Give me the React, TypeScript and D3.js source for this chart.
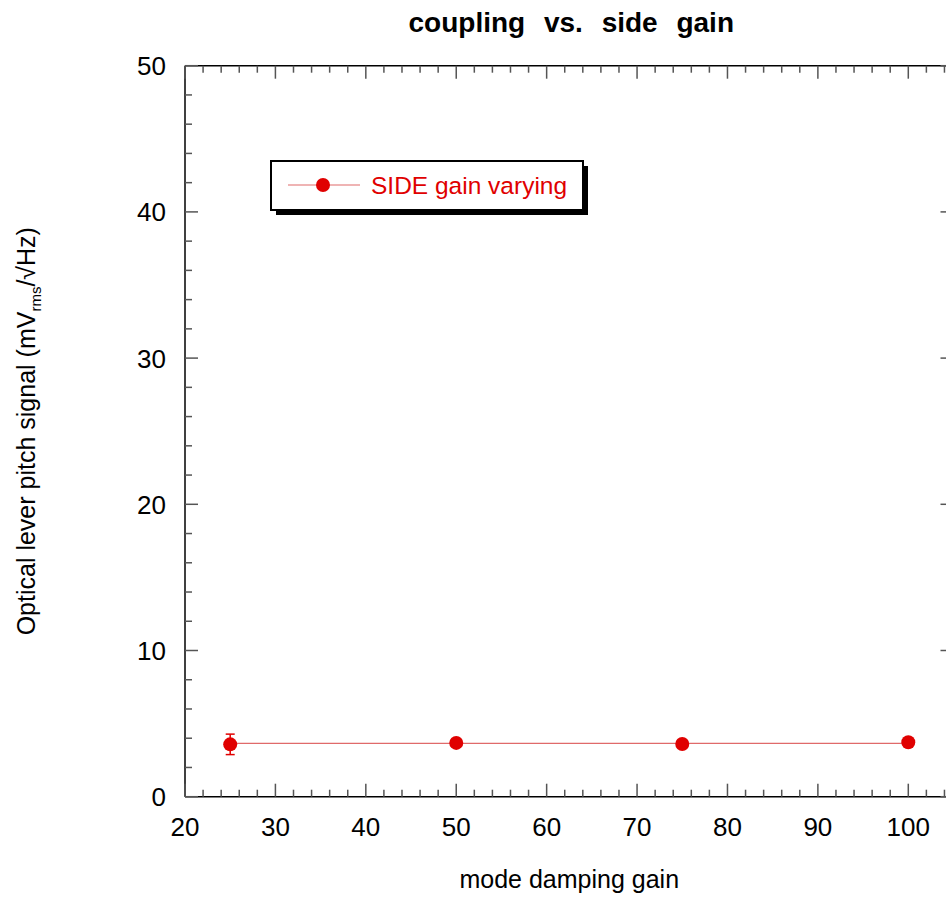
import React from "react";
import * as d3 from "d3";

const gains = [25, 50, 75, 100];
const signal = [3.58, 3.68, 3.6, 3.72];
const errors = [0.7, 0.15, 0.15, 0.15];
const xMajor = [20, 30, 40, 50, 60, 70, 80, 90, 100];
const yMajor = [0, 10, 20, 30, 40, 50];
const legendLabel = "SIDE gain varying";
const titleText = "coupling vs. side gain";
const xTitle = "mode damping gain";

const W = 946, H = 922;
const L = 185, R = 953.5, T = 65.7, B = 796.7;
const RED = "#e00000";
const LINE = "#e06a6a";
const FONT = "'Liberation Sans', Arial, Helvetica, sans-serif";

export default function App() {
  const x = d3.scaleLinear().domain([20, 105]).range([L, R]);
  const y = d3.scaleLinear().domain([0, 50]).range([B, T]);
  const xMinor = d3.range(20, 106, 2).filter((v) => v % 10 !== 0);
  const yMinor = d3.range(0, 51, 2).filter((v) => v % 10 !== 0);

  // constant (mean) fit through points
  const my = d3.mean(signal) as number;
  const x0 = d3.min(gains) as number, x1 = d3.max(gains) as number;
  const fitLine = d3.line<number>().x((g) => x(g)).y(() => y(my))([x0, x1]);

  const tickColor = "#555";
  return (
    <svg width={W} height={H} style={{ position: "absolute", left: 0, top: 0, fontFamily: FONT }}>
      <rect x={0} y={0} width={W} height={H} fill="#fff" />
      {/* title */}
      <text x={(L + R) / 2 + 2} y={32} textAnchor="middle" fontSize={28} fontWeight="bold" wordSpacing={11}>
        {titleText}
      </text>
      {/* axes lines */}
      <g stroke="#000" strokeWidth={1.5} fill="none">
        <line x1={L} x2={R} y1={B} y2={B} />
        <line x1={L} x2={R} y1={T} y2={T} />
        <line x1={L} x2={L} y1={T} y2={B} />
        <line x1={R} x2={R} y1={T} y2={B} />
      </g>
      {/* ticks */}
      <g stroke={tickColor} strokeWidth={1.5}>
        {xMajor.map((v) => (
          <g key={"xm" + v}>
            <line x1={x(v)} x2={x(v)} y1={B} y2={B - 13} />
            <line x1={x(v)} x2={x(v)} y1={T} y2={T + 13} />
          </g>
        ))}
        {xMinor.map((v) => (
          <g key={"xn" + v}>
            <line x1={x(v)} x2={x(v)} y1={B} y2={B - 7} />
            <line x1={x(v)} x2={x(v)} y1={T} y2={T + 7} />
          </g>
        ))}
        {yMajor.map((v) => (
          <g key={"ym" + v}>
            <line x1={L} x2={L + 13} y1={y(v)} y2={y(v)} />
            <line x1={R} x2={R - 13} y1={y(v)} y2={y(v)} />
          </g>
        ))}
        {yMinor.map((v) => (
          <g key={"yn" + v}>
            <line x1={L} x2={L + 7} y1={y(v)} y2={y(v)} />
            <line x1={R} x2={R - 7} y1={y(v)} y2={y(v)} />
          </g>
        ))}
      </g>
      {/* tick labels */}
      <g fontSize={26} fill="#000">
        {xMajor.map((v) => (
          <text key={"xl" + v} x={x(v)} y={836} textAnchor="middle">{v}</text>
        ))}
        {yMajor.map((v) => (
          <text key={"yl" + v} x={166} y={y(v) + 9.5} textAnchor="end">{v}</text>
        ))}
      </g>
      {/* axis titles */}
      <text x={(L + R) / 2} y={888} textAnchor="middle" fontSize={25}>{xTitle}</text>
      <text transform={`translate(35, ${(T + B) / 2}) rotate(-90)`} textAnchor="middle" fontSize={25}>
        Optical lever pitch signal (mV
        <tspan fontSize={15} dy={6}>rms</tspan>
        <tspan dy={-6}>/√Hz)</tspan>
      </text>
      {/* fit line */}
      <path d={fitLine || ""} stroke={LINE} strokeWidth={1.2} fill="none" />
      {/* error bars */}
      <g stroke={RED} strokeWidth={1.5}>
        {gains.map((g, i) => (
          <g key={"e" + i}>
            <line x1={x(g)} x2={x(g)} y1={y(signal[i] - errors[i])} y2={y(signal[i] + errors[i])} />
            <line x1={x(g) - 4.5} x2={x(g) + 4.5} y1={y(signal[i] - errors[i])} y2={y(signal[i] - errors[i])} />
            <line x1={x(g) - 4.5} x2={x(g) + 4.5} y1={y(signal[i] + errors[i])} y2={y(signal[i] + errors[i])} />
          </g>
        ))}
      </g>
      {/* points */}
      {gains.map((g, i) => (
        <circle key={"p" + i} cx={x(g)} cy={y(signal[i])} r={7} fill={RED} />
      ))}
      {/* legend */}
      <g>
        <rect x={276} y={166} width={312} height={49} fill="#000" />
        <rect x={271} y={161} width={312} height={49} fill="#fff" stroke="#000" strokeWidth={2} />
        <line x1={288} x2={360} y1={185} y2={185} stroke={LINE} strokeWidth={1.2} />
        <circle cx={323} cy={185} r={7} fill={RED} />
        <text x={371} y={194} fontSize={24.5} fill={RED}>{legendLabel}</text>
      </g>
    </svg>
  );
}
